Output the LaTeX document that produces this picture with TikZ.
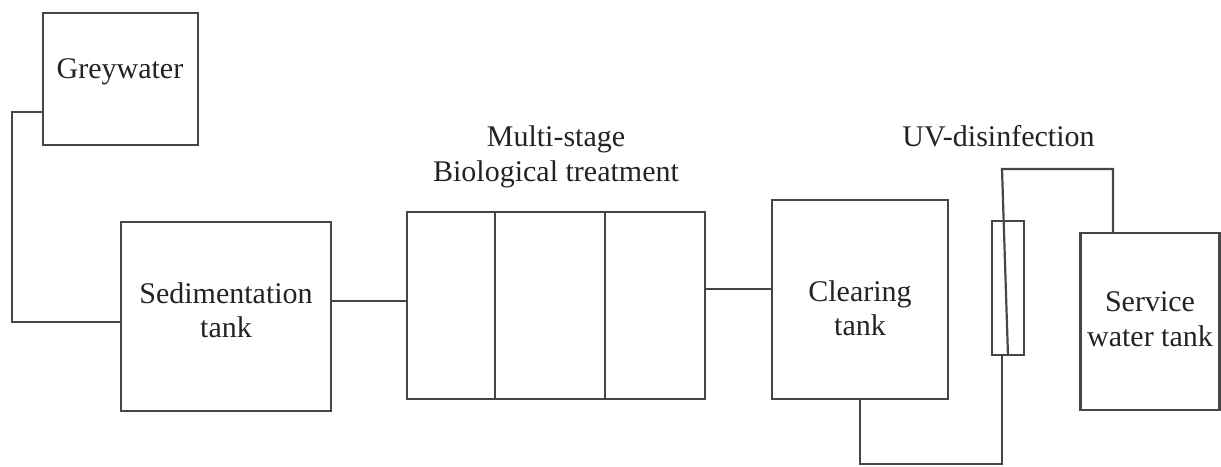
\documentclass[tikz,border=0pt]{standalone}
\usepackage{fontspec}
\setmainfont{Liberation Serif}
\usepackage{tikz}
\usetikzlibrary{calc}
\definecolor{pipegray}{RGB}{70,70,70}
\definecolor{inkblack}{RGB}{35,35,35}
\newcommand{\labelfont}{\fontsize{15}{17.25}\selectfont}
\tikzset{
  tank/.style={draw=pipegray, line width=1.1pt, inner sep=0pt},
  pipe/.style={draw=pipegray, line width=1.1pt},
  tanklabel/.style={inner sep=0pt, align=center, text=inkblack, font=\labelfont}
}

\begin{document}
\begin{tikzpicture}[x=0.5pt, y=-0.5pt]

\useasboundingbox (0,0) rectangle (1221,466);

% ── Tanks (centres in pixel units, y downwards) ─────────────────────────────
\node[tank, minimum width=77.5pt, minimum height=66pt]  (grey)  at (120.5,79)   {};
\node[tank, minimum width=105pt,  minimum height=94.5pt] (sed)  at (226,316.5)  {};
\node[tank, minimum width=149pt,  minimum height=93.5pt] (bio)  at (556,305.5)  {};
\node[tank, minimum width=88pt,   minimum height=99.5pt] (clear) at (860,299.5) {};
\node[tank, minimum width=16pt,   minimum height=67pt]  (tube)  at (1008,288)   {};
\node[tank, minimum width=69.5pt, minimum height=88.5pt] (svc)  at (1150,321.5) {};

% stage walls of the biological reactor
\foreach \dx in {89,199}{
  \draw[pipe] ($(bio.north west)+(\dx,0)$) -- ($(bio.south west)+(\dx,0)$);
}

% ── Labels ──────────────────────────────────────────────────────────────────
\node[tanklabel, anchor=base] (greylabel) at (120,78) {Greywater};
\node[tanklabel] (sedlabel)   at (226,310)  {Sedimentation\\tank};
\node[tanklabel] (biolabel)   at (556,157)  {Multi-stage\\Biological treatment};
\node[tanklabel] (clearlabel) at (860,308)  {Clearing\\tank};
\node[tanklabel, anchor=base east] (uvlabel) at (1095,146) {UV-disinfection};
\node[tanklabel] (svclabel)   at (1150,319) {Service\\water tank};

% ── Pipes ───────────────────────────────────────────────────────────────────
\coordinate (inbend1) at (12,112);
\coordinate (inbend2) at (12,322);
\draw[pipe] (grey.west |- inbend1) -- (inbend1) -- (inbend2) -- (sed.west |- inbend2);

\draw[pipe] (sed.east |- 0,301) -- (bio.west |- 0,301);
\draw[pipe] (bio.east |- 0,289) -- (clear.west |- 0,289);

\coordinate (lowbend1) at (clear.south |- 0,464);
\coordinate (lowbend2) at (1002,464);
\draw[pipe] (clear.south) -- (lowbend1) -- (lowbend2) -- (lowbend2 |- tube.south);

\coordinate (topbend1) at (1002,169);
\coordinate (topbend2) at (1113,169);
\draw[pipe] (tube.south) -- (topbend1) -- (topbend2) -- (svc.north -| topbend2);

\end{tikzpicture}
\end{document}
